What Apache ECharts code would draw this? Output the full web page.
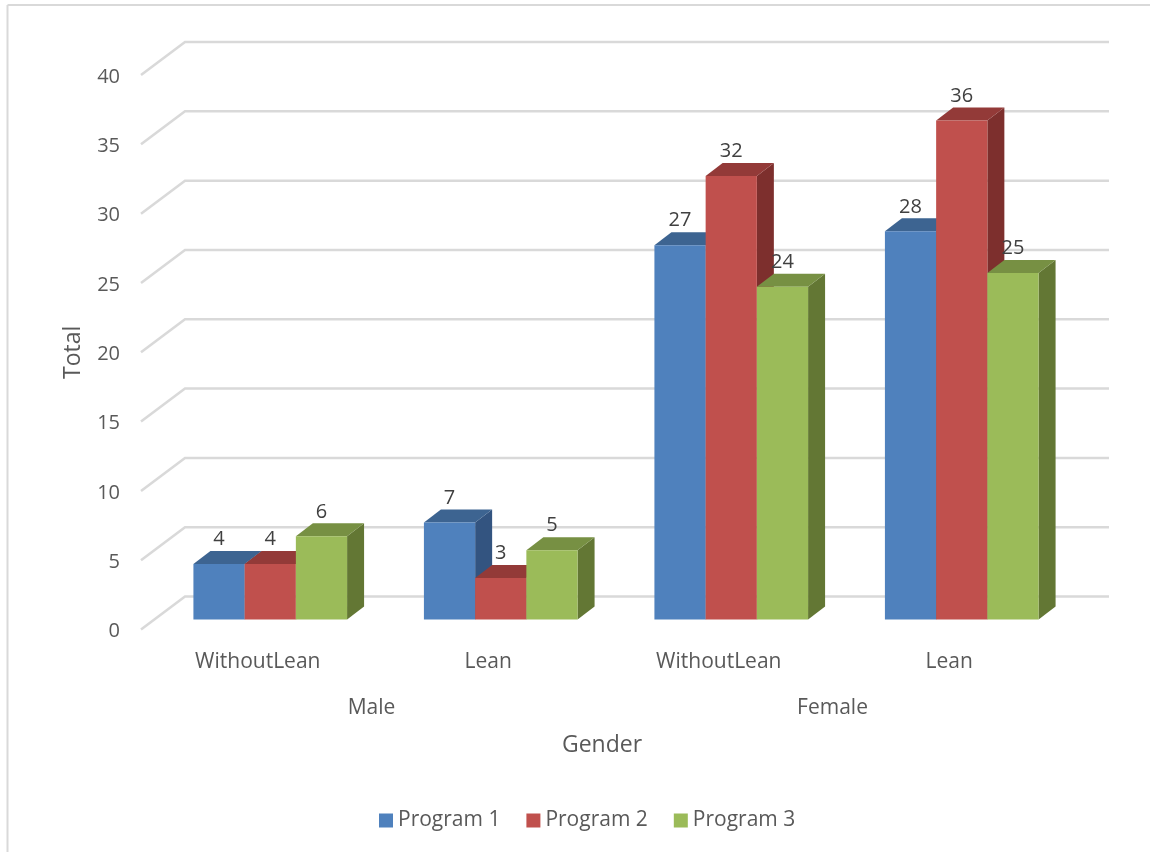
<!DOCTYPE html>
<html>
<head>
<meta charset="utf-8">
<style>html,body{margin:0;padding:0;background:#fff}#chart{width:1150px;height:852px}</style>
<script src="https://cdn.jsdelivr.net/npm/echarts@6/dist/echarts.min.js"></script>
</head>
<body>
<div id="chart"></div>
<script>
// Enrolment totals by gender and lean status
const subCategories = ['WithoutLean', 'Lean', 'WithoutLean', 'Lean'];
const genders = ['Male', 'Female'];
const program1 = [4, 7, 27, 28];
const program2 = [4, 3, 32, 36];
const program3 = [6, 5, 24, 25];
const wallTicks = [0, 5, 10, 15, 20, 25, 30, 35, 40];

const FONT = '"Open Sans", sans-serif';
// Oblique projection: wall depth and the position and depth of the bars within it
const WALL_DX = 44, WALL_DY = 33, WALL_EXTRA = 2;
const BAR_SHIFT_X = 14, BAR_SHIFT_Y = 10;
const BAR_DX = 17, BAR_DY = 13;

function prismRenderer(seriesIndex, faces) {
  return function (params, api) {
    const cat = api.value(0);
    const val = api.value(1);
    const band = api.size([1, 0])[0];
    const w = band / 4.5;
    const c = api.coord([cat, val]);
    const b = api.coord([cat, 0]);
    const x0 = c[0] + BAR_SHIFT_X + (seriesIndex - 1.5) * w;
    const x1 = x0 + w;
    const yTop = c[1] - BAR_SHIFT_Y;
    const yBase = b[1] - BAR_SHIFT_Y;
    const z2 = seriesIndex + 1;
    return {
      type: 'group',
      children: [
        { type: 'polygon', z2, shape: { points: [[x1, yTop], [x1 + BAR_DX, yTop - BAR_DY], [x1 + BAR_DX, yBase - BAR_DY], [x1, yBase]] }, style: { fill: faces.side } },
        { type: 'polygon', z2, shape: { points: [[x0, yTop], [x0 + BAR_DX, yTop - BAR_DY], [x1 + BAR_DX, yTop - BAR_DY], [x1, yTop]] }, style: { fill: faces.top } },
        { type: 'rect', z2, shape: { x: x0, y: yTop, width: w, height: yBase - yTop }, style: { fill: faces.front } },
        { type: 'text', z2: 20, x: x0 + w / 2, y: yTop - 24.5, style: { text: String(val), fill: '#404040', font: '20px ' + FONT, align: 'center', verticalAlign: 'middle' } }
      ]
    };
  };
}

function barSeries(name, values, seriesIndex, faces) {
  return {
    name,
    type: 'custom',
    xAxisIndex: 0,
    yAxisIndex: 0,
    itemStyle: { color: faces.front },
    encode: { x: 0, y: 1 },
    data: values.map((v, i) => [i, v]),
    renderItem: prismRenderer(seriesIndex, faces),
    z: 3
  };
}

const chart = echarts.init(document.getElementById('chart'), null, { renderer: 'canvas' });
chart.setOption({
  animation: false,
  backgroundColor: '#ffffff',
  textStyle: { fontFamily: FONT },
  grid: { left: 141, top: 75, width: 922, height: 554.5 },
  graphic: [
    { type: 'line', shape: { x1: 7.5, y1: 5, x2: 1150, y2: 5 }, style: { stroke: '#d9d9d9', lineWidth: 2 } },
    { type: 'line', shape: { x1: 7.5, y1: 5, x2: 7.5, y2: 852 }, style: { stroke: '#d9d9d9', lineWidth: 2 } }
  ],
  legend: {
    data: ['Program 1', 'Program 2', 'Program 3'],
    left: 374,
    top: 805,
    icon: 'rect',
    itemWidth: 14,
    itemHeight: 14,
    itemGap: 26,
    textStyle: { fontSize: 21, color: '#595959', fontFamily: FONT }
  },
  xAxis: [
    {
      type: 'category',
      data: subCategories,
      axisLine: { show: false },
      axisTick: { show: false },
      axisLabel: {
        color: '#595959', margin: 22, interval: 0,
        formatter: v => '{a|' + v + '}',
        rich: { a: { fontSize: 21, color: '#595959', fontFamily: FONT, padding: [0, 0, 0, 3] } }
      },
      name: 'Gender',
      nameLocation: 'middle',
      nameGap: 104,
      nameTextStyle: { fontSize: 23, color: '#595959', fontFamily: FONT }
    },
    {
      type: 'category',
      position: 'bottom',
      offset: 46,
      data: genders,
      axisLine: { show: false },
      axisTick: { show: false },
      axisLabel: { fontSize: 21, color: '#595959', margin: 22, fontFamily: FONT, interval: 0 }
    }
  ],
  yAxis: {
    type: 'value',
    min: 0,
    max: 40,
    interval: 5,
    axisLine: { show: false },
    axisTick: { show: false },
    splitLine: { show: false },
    axisLabel: {
      color: '#595959', margin: 21,
      formatter: v => '{a|' + v + '}',
      rich: { a: { fontSize: 20, color: '#595959', fontFamily: FONT, padding: [4, 0, 0, 0] } }
    },
    name: 'Total',
    nameLocation: 'middle',
    nameGap: 56,
    nameTextStyle: { fontSize: 23, color: '#595959', fontFamily: FONT }
  },
  series: [
    {
      type: 'custom',
      silent: true,
      xAxisIndex: 0,
      yAxisIndex: 0,
      z: 1,
      encode: { y: 0 },
      data: wallTicks.map(v => [v]),
      renderItem: function (params, api) {
        const g = params.coordSys;
        const y = api.coord([0, api.value(0)])[1];
        return {
          type: 'polyline',
          shape: { points: [[g.x, y], [g.x + WALL_DX, y - WALL_DY], [g.x + WALL_DX + g.width + WALL_EXTRA, y - WALL_DY]] },
          style: { stroke: '#d9d9d9', lineWidth: 2.5, fill: null }
        };
      }
    },
    barSeries('Program 1', program1, 0, { front: '#4f81bd', top: '#3d6491', side: '#335480' }),
    barSeries('Program 2', program2, 1, { front: '#c0504d', top: '#933a38', side: '#7d2f2d' }),
    barSeries('Program 3', program3, 2, { front: '#9bbb59', top: '#779043', side: '#637734' })
  ]
});
</script>
</body>
</html>
